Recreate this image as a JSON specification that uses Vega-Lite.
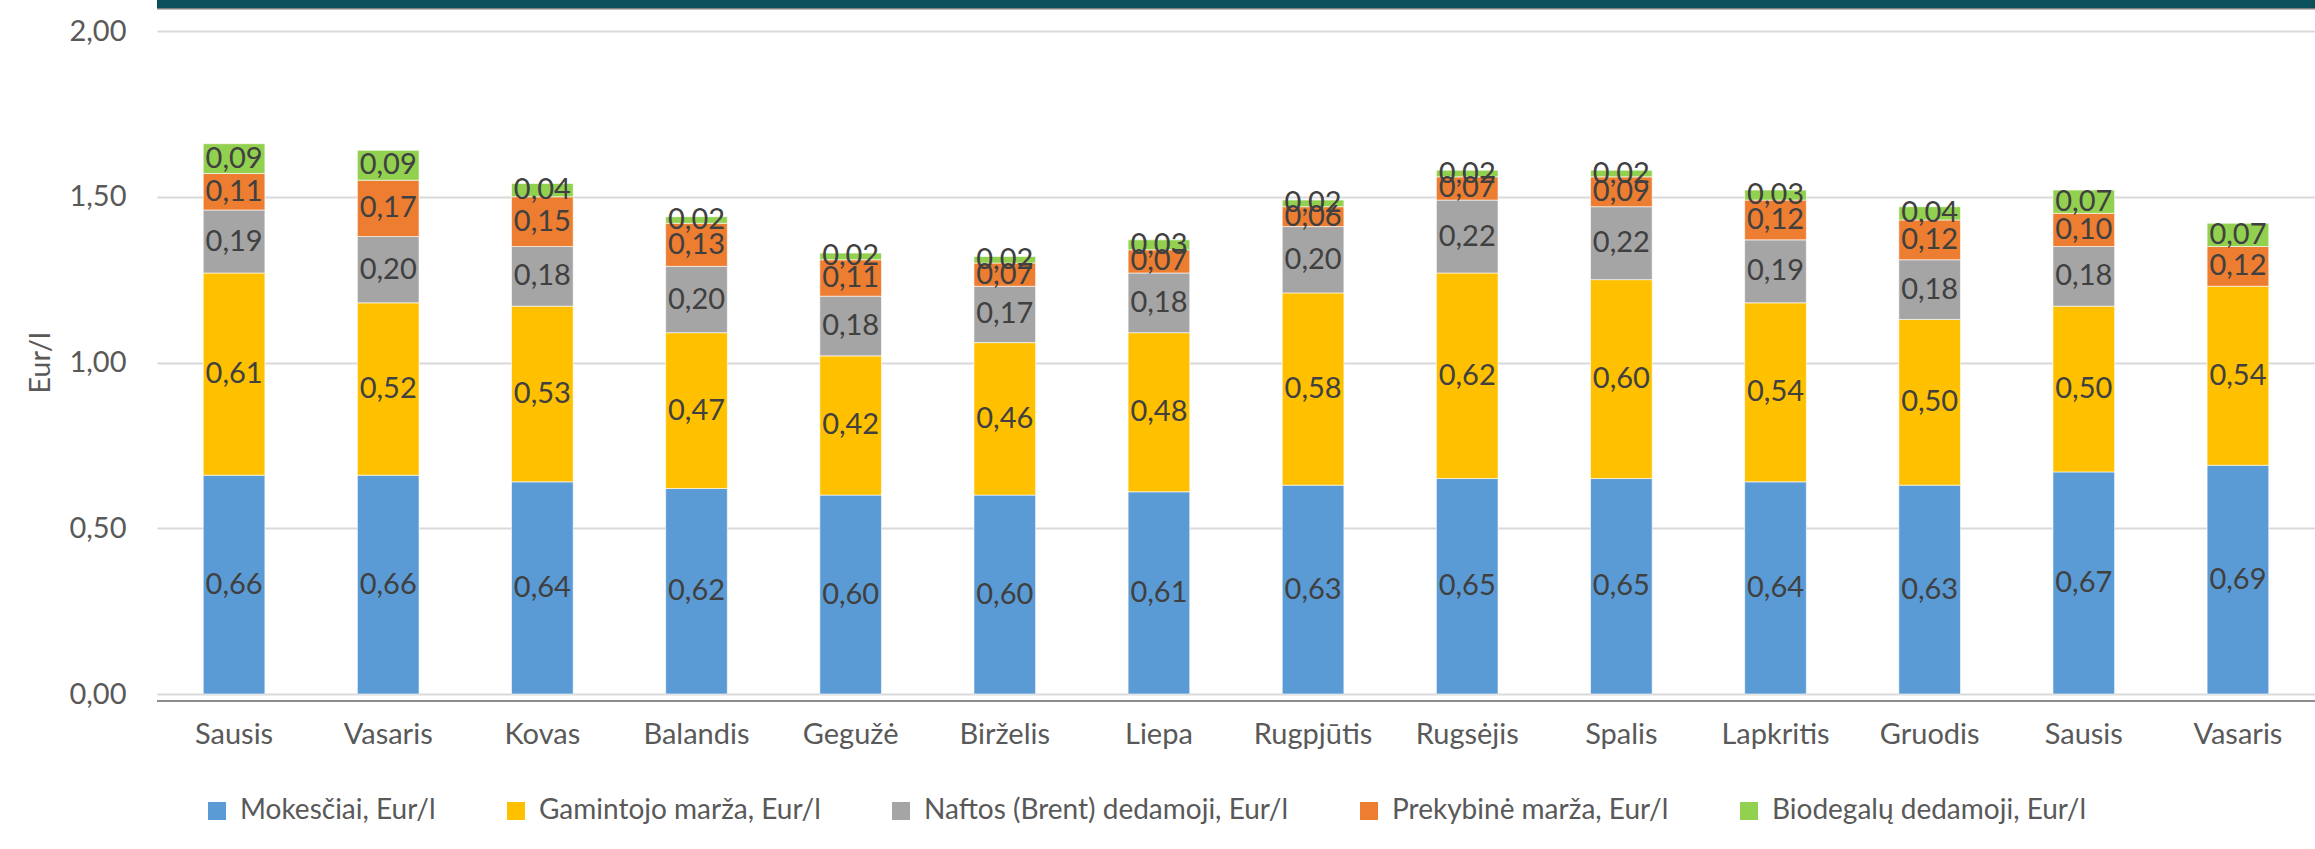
{
  "$schema": "https://vega.github.io/schema/vega-lite/v6.json",
  "width": 2158,
  "height": 663,
  "autosize": {"type": "none"},
  "padding": {"left": 157, "top": 31, "right": 0, "bottom": 155},
  "background": "white",
  "config": {
    "locale": {"number": {"decimal": ",", "thousands": " ", "grouping": [3], "currency": ["", " €"]}},
    "font": "Lato",
    "view": {"stroke": null},
    "legend": {"padding": 0}
  },
  "datasets": {
    "months": [
      {"k": "01 Sausis", "Mokesčiai, Eur/l": 0.66, "Gamintojo marža, Eur/l": 0.61, "Naftos (Brent) dedamoji, Eur/l": 0.19, "Prekybinė marža, Eur/l": 0.11, "Biodegalų dedamoji, Eur/l": 0.09},
      {"k": "02 Vasaris", "Mokesčiai, Eur/l": 0.66, "Gamintojo marža, Eur/l": 0.52, "Naftos (Brent) dedamoji, Eur/l": 0.20, "Prekybinė marža, Eur/l": 0.17, "Biodegalų dedamoji, Eur/l": 0.09},
      {"k": "03 Kovas", "Mokesčiai, Eur/l": 0.64, "Gamintojo marža, Eur/l": 0.53, "Naftos (Brent) dedamoji, Eur/l": 0.18, "Prekybinė marža, Eur/l": 0.15, "Biodegalų dedamoji, Eur/l": 0.04},
      {"k": "04 Balandis", "Mokesčiai, Eur/l": 0.62, "Gamintojo marža, Eur/l": 0.47, "Naftos (Brent) dedamoji, Eur/l": 0.20, "Prekybinė marža, Eur/l": 0.13, "Biodegalų dedamoji, Eur/l": 0.02},
      {"k": "05 Gegužė", "Mokesčiai, Eur/l": 0.60, "Gamintojo marža, Eur/l": 0.42, "Naftos (Brent) dedamoji, Eur/l": 0.18, "Prekybinė marža, Eur/l": 0.11, "Biodegalų dedamoji, Eur/l": 0.02},
      {"k": "06 Birželis", "Mokesčiai, Eur/l": 0.60, "Gamintojo marža, Eur/l": 0.46, "Naftos (Brent) dedamoji, Eur/l": 0.17, "Prekybinė marža, Eur/l": 0.07, "Biodegalų dedamoji, Eur/l": 0.02},
      {"k": "07 Liepa", "Mokesčiai, Eur/l": 0.61, "Gamintojo marža, Eur/l": 0.48, "Naftos (Brent) dedamoji, Eur/l": 0.18, "Prekybinė marža, Eur/l": 0.07, "Biodegalų dedamoji, Eur/l": 0.03},
      {"k": "08 Rugpjūtis", "Mokesčiai, Eur/l": 0.63, "Gamintojo marža, Eur/l": 0.58, "Naftos (Brent) dedamoji, Eur/l": 0.20, "Prekybinė marža, Eur/l": 0.06, "Biodegalų dedamoji, Eur/l": 0.02},
      {"k": "09 Rugsėjis", "Mokesčiai, Eur/l": 0.65, "Gamintojo marža, Eur/l": 0.62, "Naftos (Brent) dedamoji, Eur/l": 0.22, "Prekybinė marža, Eur/l": 0.07, "Biodegalų dedamoji, Eur/l": 0.02},
      {"k": "10 Spalis", "Mokesčiai, Eur/l": 0.65, "Gamintojo marža, Eur/l": 0.60, "Naftos (Brent) dedamoji, Eur/l": 0.22, "Prekybinė marža, Eur/l": 0.09, "Biodegalų dedamoji, Eur/l": 0.02},
      {"k": "11 Lapkritis", "Mokesčiai, Eur/l": 0.64, "Gamintojo marža, Eur/l": 0.54, "Naftos (Brent) dedamoji, Eur/l": 0.19, "Prekybinė marža, Eur/l": 0.12, "Biodegalų dedamoji, Eur/l": 0.03},
      {"k": "12 Gruodis", "Mokesčiai, Eur/l": 0.63, "Gamintojo marža, Eur/l": 0.50, "Naftos (Brent) dedamoji, Eur/l": 0.18, "Prekybinė marža, Eur/l": 0.12, "Biodegalų dedamoji, Eur/l": 0.04},
      {"k": "13 Sausis", "Mokesčiai, Eur/l": 0.67, "Gamintojo marža, Eur/l": 0.50, "Naftos (Brent) dedamoji, Eur/l": 0.18, "Prekybinė marža, Eur/l": 0.10, "Biodegalų dedamoji, Eur/l": 0.07},
      {"k": "14 Vasaris", "Mokesčiai, Eur/l": 0.69, "Gamintojo marža, Eur/l": 0.54, "Naftos (Brent) dedamoji, Eur/l": null, "Prekybinė marža, Eur/l": 0.12, "Biodegalų dedamoji, Eur/l": 0.07}
    ],
    "series": [
      {"s": "Mokesčiai, Eur/l", "o": 1},
      {"s": "Gamintojo marža, Eur/l", "o": 2},
      {"s": "Naftos (Brent) dedamoji, Eur/l", "o": 3},
      {"s": "Prekybinė marža, Eur/l", "o": 4},
      {"s": "Biodegalų dedamoji, Eur/l", "o": 5}
    ]
  },
  "layer": [
    {
      "data": {"name": "months"},
      "transform": [
        {"fold": ["Mokesčiai, Eur/l", "Gamintojo marža, Eur/l", "Naftos (Brent) dedamoji, Eur/l", "Prekybinė marža, Eur/l", "Biodegalų dedamoji, Eur/l"], "as": ["s", "v"]},
        {"filter": {"field": "v", "valid": true}},
        {"lookup": "s", "from": {"data": {"name": "series"}, "key": "s", "fields": ["o"]}},
        {"stack": "v", "groupby": ["k"], "sort": [{"field": "o", "order": "ascending"}], "as": ["v0", "v1"]}
      ],
      "layer": [
        {
          "mark": {"type": "bar", "stroke": "#ffffff", "strokeWidth": 1, "strokeOpacity": 0.6},
          "encoding": {
            "x": {
              "field": "k", "type": "ordinal",
              "scale": {"paddingInner": 0.6, "paddingOuter": 0.3},
              "axis": {"title": null, "labelExpr": "slice(datum.value, 3)", "labelAngle": 0, "labelFontSize": 29, "labelColor": "#595959", "labelPadding": 26, "ticks": false, "domain": false}
            },
            "y": {
              "field": "v0", "type": "quantitative",
              "scale": {"domain": [0, 2], "nice": false},
              "axis": {"values": [0, 0.5, 1, 1.5, 2], "format": ".2f", "grid": true, "gridColor": "#d9d9d9", "gridWidth": 2, "domain": false, "ticks": false, "labelPadding": 31, "labelFontSize": 29, "labelColor": "#595959", "title": "Eur/l", "titleFontSize": 29, "titleFontWeight": "normal", "titleColor": "#595959", "titlePadding": 13}
            },
            "y2": {"field": "v1"},
            "color": {
              "field": "s", "type": "nominal",
              "scale": {
                "domain": ["Mokesčiai, Eur/l", "Gamintojo marža, Eur/l", "Naftos (Brent) dedamoji, Eur/l", "Prekybinė marža, Eur/l", "Biodegalų dedamoji, Eur/l"],
                "range": ["#5b9bd5", "#ffc000", "#a5a5a5", "#ed7d31", "#92d050"]
              },
              "legend": {"title": null, "orient": "none", "legendX": 46, "legendY": 766, "direction": "horizontal", "symbolType": "square", "symbolSize": 324, "symbolStrokeWidth": 0, "labelFontSize": 28, "labelColor": "#595959", "labelOffset": 9, "columnPadding": 66, "labelLimit": 600}
            }
          }
        },
        {
          "transform": [
            {"fold": ["v0", "v1"], "as": ["edge", "ev"]},
            {"aggregate": [{"op": "mean", "field": "ev", "as": "mid"}], "groupby": ["k", "s", "v"]}
          ],
          "mark": {"type": "text", "fontSize": 29, "color": "#404040", "baseline": "middle", "align": "center"},
          "encoding": {
            "x": {"field": "k", "type": "ordinal"},
            "y": {"field": "mid", "type": "quantitative"},
            "text": {"field": "v", "type": "quantitative", "format": ".2f"}
          }
        }
      ]
    },
    {
      "data": {"values": [{}]},
      "mark": {"type": "rule", "color": "#8c8c8c", "strokeWidth": 2},
      "encoding": {"y": {"datum": -0.0211, "type": "quantitative"}}
    },
    {
      "data": {"values": [{}]},
      "mark": {"type": "rect", "color": "#0b4f5a"},
      "encoding": {"y": {"datum": 2.094, "type": "quantitative"}, "y2": {"datum": 2.068}}
    },
    {
      "data": {"values": [{}]},
      "mark": {"type": "rule", "color": "#7f7f7f", "strokeWidth": 1.5},
      "encoding": {"y": {"datum": 2.067, "type": "quantitative"}}
    }
  ]
}
